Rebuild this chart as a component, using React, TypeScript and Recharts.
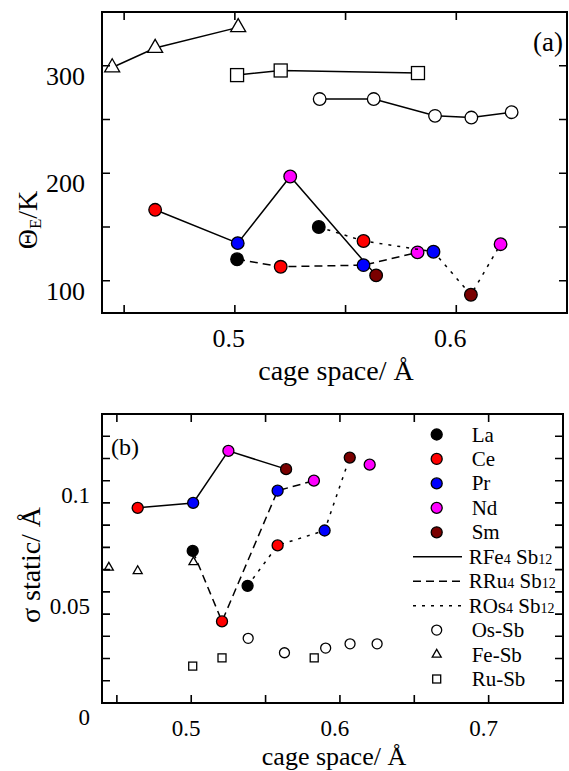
import React from 'react'
import { ScatterChart, Scatter, XAxis, YAxis } from 'recharts'

const FONT = '"Liberation Serif", "DejaVu Serif", serif'

const ELEMENT_COLORS: Record<string, string> = {
  La: '#000000',
  Ce: '#ff0000',
  Pr: '#0000ff',
  Nd: '#ff00ff',
  Sm: '#7a0000',
}

// RFe4Sb12
const feElements = ['Ce', 'Pr', 'Nd', 'Sm']
const feCage = [0.464, 0.5013, 0.525, 0.5638]
const feTheta = [166, 135, 197, 105]
const feSigma = [0.0878, 0.09, 0.1134, 0.1052]

// RRu4Sb12
const ruElements = ['La', 'Ce', 'Pr', 'Nd']
const ruCage = [0.501, 0.5207, 0.5581, 0.5825]
const ruTheta = [120, 113, 114.5, 126.4]
const ruSigma = [0.0684, 0.0367, 0.0955, 0.1]

// ROs4Sb12
const osElements = ['La', 'Ce', 'Pr', 'Sm', 'Nd']
const osCage = [0.5379, 0.5581, 0.5897, 0.6066, 0.62]
const osTheta = [150, 137, 127, 87, 134]
const osSigma = [0.0527, 0.0709, 0.0776, 0.1104, 0.1072]

// Sb (open symbols)
const feSbCage = [0.4446, 0.464, 0.5015]
const feSbTheta = [298.4, 316.5, 335.7]
const feSbSigma = [0.0609, 0.0594, 0.0634]

const ruSbCage = [0.501, 0.5207, 0.5827]
const ruSbTheta = [291.3, 295.6, 293.2]
const ruSbSigma = [0.0166, 0.0203, 0.0203]

const osSbCage = [0.5383, 0.5627, 0.5904, 0.6068, 0.625]
const osSbTheta = [269, 269, 253.4, 251.8, 256.8]
const osSbSigma = [0.0291, 0.0226, 0.0247, 0.0266, 0.0266]

// axes
const topXDomain = [0.44, 0.65]
const topYDomain = [70, 350]
const topXTicks = [0.45, 0.5, 0.55, 0.6]
const topXLabels = [0.5, 0.6]
const topYTicks = [100, 150, 200, 250, 300]
const topYLabels = [100, 200, 300]
const botXDomain = [0.44, 0.75]
const botYDomain = [0, 0.13]
const botXTicks = [0.45, 0.5, 0.55, 0.6, 0.65, 0.7]
const botXLabels = [0.5, 0.6, 0.7]
const botYTicks = [0, 0.01, 0.02, 0.03, 0.04, 0.05, 0.06, 0.07, 0.08, 0.09, 0.1, 0.11, 0.12]
const botYLabels = [0, 0.05, 0.1]

const legendElements = ['La', 'Ce', 'Pr', 'Nd', 'Sm']

function rows(xs: number[], ys: number[], els?: string[]) {
  return xs.map((x, i) => ({ x, y: ys[i], el: els ? els[i] : '' }))
}

const filled = (r: number) => (p: any) => (
  <circle cx={p.cx} cy={p.cy} r={r} fill={ELEMENT_COLORS[p.payload.el]} stroke="#000" strokeWidth={1.3} />
)
const openCircle = (r: number) => (p: any) => (
  <circle cx={p.cx} cy={p.cy} r={r} fill="#fff" stroke="#000" strokeWidth={1.3} />
)
const openSquare = (s: number) => (p: any) => (
  <rect x={p.cx - s / 2} y={p.cy - s / 2} width={s} height={s} fill="#fff" stroke="#000" strokeWidth={1.3} />
)
const openTriangle = (s: number) => (p: any) => {
  const h = s * 0.87
  const pts = `${p.cx - s / 2},${p.cy + h / 3} ${p.cx + s / 2},${p.cy + h / 3} ${p.cx},${p.cy - (2 * h) / 3}`
  return <polygon points={pts} fill="#fff" stroke="#000" strokeWidth={1.3} />
}

const SOLID = { stroke: '#000', strokeWidth: 1.5 }
const DASHED = { stroke: '#000', strokeWidth: 1.5, strokeDasharray: '8 5' }
const DOTTED = { stroke: '#000', strokeWidth: 1.5, strokeDasharray: '3 6' }

const TICK = 8

// Inward ticks on all four sides, drawn as one path per tick value. With tickSize 0 recharts
// hands the renderer the point on the axis line; the opposite side is that plus the plot size.
const bottomTick = (labels: number[], size: number, dx: number, dy: number, plotH: number) => (p: any) => {
  const x = Number(p.x)
  const y = Number(p.y)
  return (
    <g>
      <path
        d={`M${x},${y} V${y - TICK} M${x},${y - plotH} V${y - plotH + TICK}`}
        stroke="#000"
        strokeWidth={1.6}
        fill="none"
      />
      {labels.includes(p.payload.value) && (
        <text x={x + dx} y={y + dy} textAnchor="middle" fontSize={size} fontFamily={FONT} fill="#000" stroke="none">
          {String(p.payload.value)}
        </text>
      )}
    </g>
  )
}
const leftTick = (labels: number[], size: number, dx: number, dy: number, plotW: number) => (p: any) => {
  const x = Number(p.x)
  const y = Number(p.y)
  return (
    <g>
      <path
        d={`M${x},${y} H${x + TICK} M${x + plotW},${y} H${x + plotW - TICK}`}
        stroke="#000"
        strokeWidth={1.6}
        fill="none"
      />
      {labels.includes(p.payload.value) && (
        <text x={x + dx} y={y + dy} textAnchor="end" fontSize={size} fontFamily={FONT} fill="#000" stroke="none">
          {String(p.payload.value)}
        </text>
      )}
    </g>
  )
}

function Frame(o: any) {
  const common = { type: 'number' as const, interval: 0, allowDataOverflow: true, tickSize: 0, tickMargin: 0, tickLine: false, axisLine: false }
  return [
    <XAxis key="xb" {...common} dataKey="x" domain={o.xDomain} ticks={o.xTicks} height={o.xH}
      tick={bottomTick(o.xLabels, o.tickFont, o.xDx, o.xDy, o.plotH)} />,
    <YAxis key="yl" {...common} dataKey="y" domain={o.yDomain} ticks={o.yTicks} width={o.yW}
      tick={leftTick(o.yLabels, o.tickFont, o.yDx, o.yDy, o.plotW)} />,
  ]
}

function ThetaPanel() {
  return (
    <ScatterChart width={569} height={400} margin={{ top: 12, right: 2, bottom: 0, left: 0 }}>
      {Frame({
        xDomain: topXDomain,
        yDomain: topYDomain,
        xTicks: topXTicks,
        yTicks: topYTicks,
        xLabels: topXLabels,
        yLabels: topYLabels,
        xH: 87,
        yW: 102,
        plotW: 465,
        plotH: 301,
        tickFont: 26,
        xDx: -6,
        xDy: 34,
        yDx: -17,
        yDy: 19,
      })}
      <Scatter data={rows(feSbCage, feSbTheta)} line={SOLID} shape={openTriangle(15)} isAnimationActive={false} />
      <Scatter data={rows(ruSbCage, ruSbTheta)} line={SOLID} shape={openSquare(13)} isAnimationActive={false} />
      <Scatter data={rows(osSbCage, osSbTheta)} line={SOLID} shape={openCircle(6.3)} isAnimationActive={false} />
      <Scatter data={rows(feCage, feTheta, feElements)} line={SOLID} shape={filled(6.3)} isAnimationActive={false} />
      <Scatter data={rows(ruCage, ruTheta, ruElements)} line={DASHED} shape={filled(6.3)} isAnimationActive={false} />
      <Scatter data={rows(osCage, osTheta, osElements)} line={DOTTED} shape={filled(6.3)} isAnimationActive={false} />
    </ScatterChart>
  )
}

function SigmaPanel() {
  const os = rows(osCage, osSigma, osElements)
  return (
    <ScatterChart width={569} height={371} margin={{ top: 14, right: 6, bottom: 0, left: 0 }}>
      {Frame({
        xDomain: botXDomain,
        yDomain: botYDomain,
        xTicks: botXTicks,
        yTicks: botYTicks,
        xLabels: botXLabels,
        yLabels: botYLabels,
        xH: 68,
        yW: 102,
        plotW: 461,
        plotH: 289,
        tickFont: 23,
        xDx: -5,
        xDy: 33,
        yDx: -12,
        yDy: 22,
      })}
      <Scatter data={rows(feSbCage, feSbSigma)} shape={openTriangle(9)} isAnimationActive={false} />
      <Scatter data={rows(ruSbCage, ruSbSigma)} shape={openSquare(8)} isAnimationActive={false} />
      <Scatter data={rows(osSbCage, osSbSigma)} shape={openCircle(5)} isAnimationActive={false} />
      <Scatter data={rows(feCage, feSigma, feElements)} line={SOLID} shape={filled(5.5)} isAnimationActive={false} />
      <Scatter data={rows(ruCage, ruSigma, ruElements)} line={DASHED} shape={filled(5.5)} isAnimationActive={false} />
      <Scatter data={os.slice(0, 4)} line={DOTTED} shape={filled(5.5)} isAnimationActive={false} />
      <Scatter data={os.slice(4)} shape={filled(5.5)} isAnimationActive={false} />
    </ScatterChart>
  )
}

function Overlay() {
  const rowY = (i: number) => 434.5 + 24.45 * i
  const mx = 436.7
  const tx = 471.7
  const text = { fontFamily: FONT, fill: '#000' }
  const lineRows = [
    { dash: undefined, main: 'RFe', sub: '4' },
    { dash: '8 5', main: 'RRu', sub: '4' },
    { dash: '3 6', main: 'ROs', sub: '4' },
  ]
  return (
    <svg width={569} height={771} style={{ position: 'absolute', left: 0, top: 0, pointerEvents: 'none' }}>
      {/* plot frames, matching the chart margins and axis sizes above */}
      <rect x={102} y={12} width={465} height={301} fill="none" stroke="#000" strokeWidth={2} />
      <rect x={102} y={414} width={461} height={289} fill="none" stroke="#000" strokeWidth={2} />

      <text {...text} fontSize={28} textAnchor="middle" transform="translate(37,220) rotate(-90)">
        Θ<tspan fontSize={17} dy={4}>E</tspan>
        <tspan dy={-4}>/K</tspan>
      </text>
      <text {...text} fontSize={28} textAnchor="middle" transform="translate(40,565) rotate(-90)">
        σ static/ Å
      </text>
      <text {...text} fontSize={28} textAnchor="middle" x={336} y={380}>
        cage space/ Å
      </text>
      <text {...text} fontSize={26} textAnchor="middle" x={334} y={765}>
        cage space/ Å
      </text>
      <text {...text} fontSize={27} textAnchor="end" x={563} y={51}>
        (a)
      </text>
      <text {...text} fontSize={24} x={111} y={455}>
        (b)
      </text>

      {legendElements.map((el, i) => (
        <g key={el}>
          <circle cx={mx} cy={rowY(i)} r={5.5} fill={ELEMENT_COLORS[el]} stroke="#000" strokeWidth={1.3} />
          <text {...text} fontSize={21} x={tx} y={rowY(i) + 7}>
            {el}
          </text>
        </g>
      ))}
      {lineRows.map((r, j) => {
        const y = rowY(5 + j)
        return (
          <g key={r.main}>
            <line x1={413} x2={462} y1={y} y2={y} stroke="#000" strokeWidth={1.5} strokeDasharray={r.dash} />
            <text {...text} fontSize={21} x={tx - 3} y={y + 7}>
              {r.main}
              <tspan fontSize={14}>{r.sub}</tspan> Sb<tspan fontSize={14}>12</tspan>
            </text>
          </g>
        )
      })}
      <circle cx={mx} cy={rowY(8)} r={5} fill="#fff" stroke="#000" strokeWidth={1.3} />
      <text {...text} fontSize={21} x={tx} y={rowY(8) + 7}>
        Os-Sb
      </text>
      <polygon
        points={`${mx - 4.5},${rowY(9) + 2.6} ${mx + 4.5},${rowY(9) + 2.6} ${mx},${rowY(9) - 5.2}`}
        fill="#fff"
        stroke="#000"
        strokeWidth={1.3}
      />
      <text {...text} fontSize={21} x={tx} y={rowY(9) + 7}>
        Fe-Sb
      </text>
      <rect x={mx - 4} y={rowY(10) - 4} width={8} height={8} fill="#fff" stroke="#000" strokeWidth={1.3} />
      <text {...text} fontSize={21} x={tx} y={rowY(10) + 7}>
        Ru-Sb
      </text>
    </svg>
  )
}

export default function App() {
  return (
    <div style={{ position: 'absolute', left: 0, top: 0, width: 569, height: 771, background: '#fff' }}>
      <div style={{ position: 'absolute', left: 0, top: 0 }}>
        <ThetaPanel />
      </div>
      <div style={{ position: 'absolute', left: 0, top: 400 }}>
        <SigmaPanel />
      </div>
      <Overlay />
    </div>
  )
}
